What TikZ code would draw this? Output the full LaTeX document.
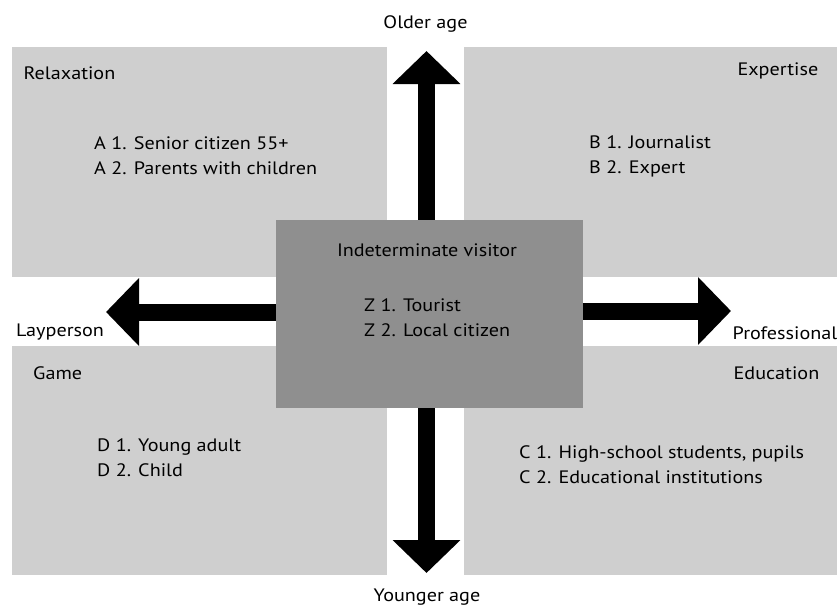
\documentclass[tikz,border=0pt]{standalone}
\usepackage{fontspec}
\setmainfont[FakeStretch=1.12]{PT Sans}
\usetikzlibrary{positioning,arrows.meta}
\definecolor{quadgray}{gray}{0.81}
\definecolor{hubgray}{gray}{0.56}

\begin{document}
\begin{tikzpicture}[x=1pt,y=-1pt,
    quad/.style={rectangle,fill=quadgray,anchor=north west,inner sep=0pt},
    hub/.style={rectangle,fill=hubgray,inner sep=0pt,
		minimum width=307pt,minimum height=188pt},
% Text styles
    lbl/.style={inner sep=0pt,font=\fontsize{18}{25}\selectfont},
    items/.style={lbl,align=left,anchor=west},
% Axis arrows
    axis/.style={line width=17pt,-{Triangle[length=33pt,width=66pt]}}
    ]
   \useasboundingbox (0,0) rectangle (837,608);
%%% Quadrants
   \node [quad,minimum width=375pt,minimum height=230pt] (relax) at (12,47) {};
   \node [quad,minimum width=373pt,minimum height=230pt] (expert) at (464,47) {};
   \node [quad,minimum width=375pt,minimum height=229pt] (game) at (12,346) {};
   \node [quad,minimum width=373pt,minimum height=229pt] (edu) at (464,346) {};

   \node [lbl,anchor=west] (relaxlabel) at (23.5,73) {Relaxation};
   \node [lbl,anchor=east] (expertlabel) at (818.5,71) {Expertise};
   \node [lbl,anchor=west] (gamelabel) at (33,373) {Game};
   \node [lbl,anchor=east] (edulabel) at (819.5,373) {Education};

   \node [items] (groupa) at (94,156) {A 1. Senior citizen 55+\\A 2. Parents with children};
   \node [items] (groupb) at (589,156.5) {B 1. Journalist\\B 2. Expert};
   \node [items] (groupd) at (97,457.5) {D 1. Young adult\\D 2. Child};
   \node [items] (groupc) at (519,465) {C 1. High-school students, pupils\\C 2. Educational institutions};

%%% Centre box
   \node [hub] (visitor) at (429.5,314) {};
   \node [lbl] (visitorlabel) at (427,250) {Indeterminate visitor};
   \node [items] (groupz) at (364,317.5) {Z 1. Tourist\\Z 2. Local citizen};

%%% Axes
   \coordinate (older) at (426.5,51);
   \coordinate (younger) at (426.5,573);
   \coordinate (lay) at (106,312);
   \coordinate (pro) at (731,311);
   \draw [axis] (older |- visitor.north) -- (older);
   \draw [axis] (younger |- visitor.south) -- (younger);
   \draw [axis] (lay -| visitor.west) -- (lay);
   \draw [axis] (pro -| visitor.east) -- (pro);

   \node [lbl] (olderlabel) at (425.5,24) {Older age};
   \node [lbl] (youngerlabel) at (427,597) {Younger age};
   \node [lbl,anchor=west] (laylabel) at (16,332.5) {Layperson};
   \node [lbl,anchor=west] (prolabel) at (732.5,333) {Professional};
\end{tikzpicture}
\end{document}
